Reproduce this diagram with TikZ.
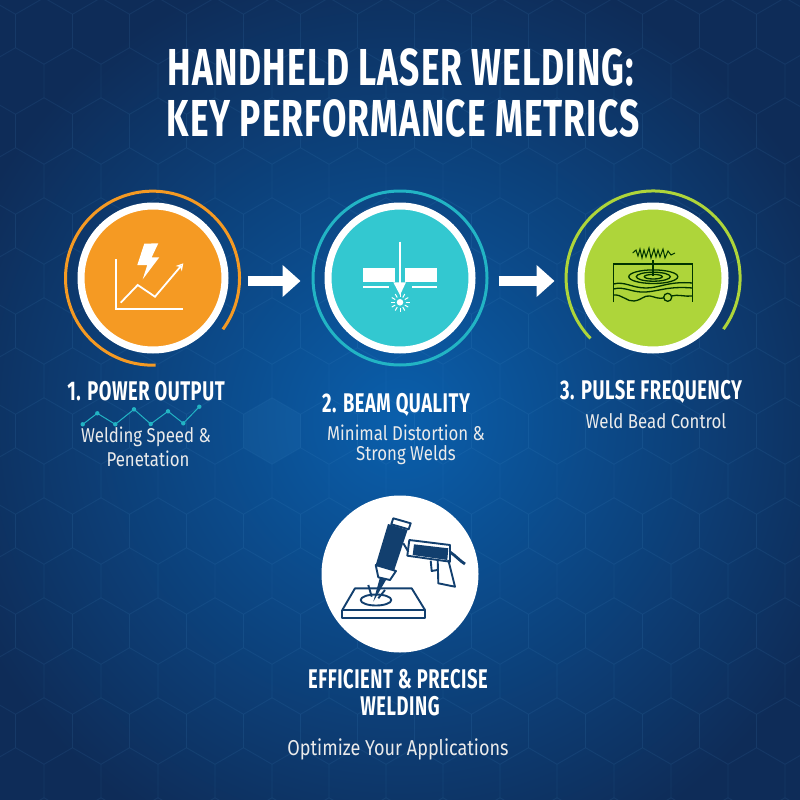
\documentclass[tikz,border=0pt]{standalone}
\usepackage{fontspec}
\usetikzlibrary{arrows.meta,positioning}
\newfontfamily\headfont[FakeStretch=0.68,LetterSpace=2]{Fira Sans}
\newfontfamily\bodyfont[FakeStretch=0.84]{Fira Sans}
\definecolor{bgmid}{HTML}{0A5FAC}
\definecolor{bgedge}{HTML}{0E2C58}
\definecolor{hexline}{HTML}{5FA8E0}
\definecolor{powerfill}{HTML}{F59A23}
\definecolor{beamfill}{HTML}{33C8D0}
\definecolor{beamring}{HTML}{22B4C4}
\definecolor{freqfill}{HTML}{AED53A}
\definecolor{toolnavy}{HTML}{123F6E}
\tikzset{
  disc/.style={circle,draw=white,line width=7pt,minimum size=144pt,inner sep=0pt},
  flowarrow/.style={white,line width=10pt,-{Triangle[length=18pt,width=31pt]}},
  titletext/.style={white,font=\headfont\bfseries\fontsize{52}{56}\selectfont,align=center},
  headtext/.style={white,font=\headfont\bfseries\fontsize{27}{30}\selectfont,align=center},
  subtext/.style={white!92!black,font=\bodyfont\fontsize{20}{24}\selectfont,align=center},
  foottext/.style={white!92!black,font=\bodyfont\fontsize{21.5}{25}\selectfont,align=center},
  iconline/.style={white,line width=1.8pt,line join=miter},
  beadline/.style={black!80!green,line width=1.3pt},
  toolline/.style={toolnavy,line width=1.9pt,line join=round}
}
\begin{document}
\begin{tikzpicture}[x=1pt,y=-1pt]
\useasboundingbox (0,0) rectangle (800,800);
\shade[inner color=bgmid,outer color=bgedge] (-70,-50) rectangle (870,890);

% hex background
\foreach \row in {-1,...,16}
  \foreach \col in {-1,...,14}
    \draw [hexline, opacity=0.06, line width=0.8pt, shift={({\col*57+mod(\row,2)*28.5+44},{\row*50+31})}]
      (0,-33) -- (28.5,-16.5) -- (28.5,16.5) -- (0,33) -- (-28.5,16.5) -- (-28.5,-16.5) -- cycle;
\fill [hexline, opacity=0.07] (272,398) -- (300.5,414.5) -- (300.5,447.5) -- (272,464) -- (243.5,447.5) -- (243.5,414.5) -- cycle;

% title
\node [titletext] (title1) at (401,67) {HANDHELD LASER WELDING:};
\node [titletext] (title2) at (403,118) {KEY PERFORMANCE METRICS};

% circles
\node [disc,fill=powerfill] (power) at (153,278) {};
\node [disc,fill=beamfill] (beam) at (400,278) {};
\node [disc,fill=freqfill] (freq) at (653,278) {};
\node [circle,fill=white,minimum size=157pt,inner sep=0pt] (tool) at (400,574) {};

\draw [powerfill, line width=3pt] (222.9,329.3) arc (36:-272:87);
\draw [beamring, line width=3pt] (400,278) circle (87);
\draw [freqfill, line width=3pt] (590.5,338.4) arc (136:396:87);

% arrows
\draw [flowarrow, shorten <=19pt, shorten >=24pt] ([yshift=-3pt]power.east) -- ([yshift=-3pt]beam.west);
\draw [flowarrow, shorten <=23pt, shorten >=23pt] ([yshift=-3pt]beam.east) -- ([yshift=-3pt]freq.west);

% power icon
\draw [iconline] (116,259.3) -- (116,309.3) -- (183.3,309.3);
\draw [iconline, -{Stealth[open,length=7pt,width=8pt]}] (120.7,302.7) -- (137.7,285) -- (155,296.7) -- (183.3,263.3);
\fill [white] (144.3,243.7) -- (158.3,243.3) -- (151.7,257.3) -- (159.3,257.3) -- (142.7,279.3) -- (147.3,265) -- (137.3,265) -- cycle;

% beam icon
\fill [white] (363.3,268.3) rectangle (395,281.7);
\fill [white] (405,268.3) rectangle (437.3,281.7);
\draw [iconline] (400,241.7) -- (400,284);
\draw [iconline] (363.3,286.7) -- (389,286.7);
\draw [iconline] (412.3,286.7) -- (436.7,286.7);
\fill [white] (393.3,282.3) -- (406,282.3) -- (400,295) -- cycle;
\fill [white] (400,302.3) circle (3.3);
\foreach \a in {0,30,...,330}
  \draw [white, line width=1pt] (400,302.3) ++(\a:5.5) -- ++(\a:4);

% bead icon
\draw [beadline] (613.3,302.3) -- (613.3,264) -- (692.7,264) -- (692.7,302.3);
\draw [beadline, line width=1pt] (632.7,253) -- (636,250) -- (638,256) -- (640,249) -- (642,258) -- (644,250) -- (646,257) -- (649,248) -- (651,258) -- (654,249) -- (656,257) -- (658,250) -- (660,257) -- (663,249) -- (665,258) -- (668,251) -- (671,255) -- (675,253);
\draw [beadline] (653,260) -- (653,276);
\draw [beadline] (653.3,276.7) ellipse (24.5 and 6.8);
\draw [beadline] (653.3,276.7) ellipse (17 and 4.5);
\draw [beadline] (653.3,276.7) ellipse (9 and 2.3);
\draw [beadline] (613.3,284) .. controls (625,281) and (632,288) .. (646,288) .. controls (660,288) and (668,281) .. (692.7,283);
\draw [beadline] (613.3,289) .. controls (625,286) and (632,293) .. (646,292) .. controls (660,291) and (668,286) .. (692.7,288);
\draw [beadline] (613.3,295) .. controls (622,294) and (627,302) .. (634,301) .. controls (642,300) and (644,295) .. (650,296) .. controls (655,297) and (658,299) .. (664,298);
\draw [beadline] (671.5,296) .. controls (678,294) and (685,297) .. (692.7,296);
\draw [beadline] (667.7,297.3) circle (4);

% torch icon
\draw [toolline] (355,588.3) -- (411.7,588.3) -- (425,610) -- (342.3,610) -- cycle;
\draw [toolline] (342.3,610) -- (342.3,617.7) -- (425,617.7) -- (425,610);
\draw [toolline] (376,600) ellipse (15.3 and 5.5);
\fill [toolnavy] (388,524) -- (407.5,530) -- (394,571) -- (375.7,565) -- cycle;
\draw [toolline, fill=white] (393.3,518.3) -- (410.7,523.3) -- (408.7,529.3) -- (391.3,524.3) -- cycle;
\draw [toolline, fill=white] (375.7,565) -- (396,571) -- (390,580) -- (378.3,577.3) -- cycle;
\fill [toolnavy] (380,577.3) -- (386,580) -- (373.3,601.7) -- cycle;
\draw [toolline] (368.3,585) -- (371.7,596.7);
\draw [toolline] (385,590) -- (378.3,598.3);
\draw [toolline, fill=white] (409.3,540) -- (450,545) -- (450,561.7) -- (407.3,555.7) -- cycle;
\fill [toolnavy] (414,544.3) -- (448.3,548.3) -- (447.3,560) -- (412.7,555) -- cycle;
\draw [toolline] (403.3,543.3) -- (408.3,551.7);
\draw [toolline] (437.7,560) -- (438.3,583.3) -- (455,586.7) -- (448.3,560);
\draw [toolline] (430.7,560.7) -- (431.7,571) -- (437.3,570);
\draw [toolnavy, line width=2.8pt] (450,552) .. controls (456,556) and (460,561) .. (465,564);

% zigzag
\draw [beamring, line width=1pt] (82.7,424.3) -- (97.3,413.3) -- (115.3,424.3) -- (134,409.3) -- (150.7,424) -- (168,411.3) -- (183.3,423.3) -- (199.3,406.7);
\foreach \p in {(82.7,424.3),(97.3,413.3),(115.3,424.3),(134,409.3),(150.7,424),(168,411.3),(183.3,423.3),(199.3,406.7)}
  \fill [beamring] \p circle (2.2);

% labels
\node [headtext] (head1) at (146,391) {1. POWER OUTPUT};
\node [subtext] (sub1a) at (146,437) {Welding Speed \&};
\node [subtext] (sub1b) at (148,459) {Penetation};
\node [headtext] (head2) at (396,405) {2. BEAM QUALITY};
\node [subtext] (sub2) at (406,445) {Minimal Distortion \&\\[-4pt]Strong Welds};
\node [headtext] (head3) at (651,392) {3. PULSE FREQUENCY};
\node [subtext] (sub3) at (656,421) {Weld Bead Control};
\node [headtext] (foot1) at (398,679) {EFFICIENT \& PRECISE};
\node [headtext] (foot2) at (400,706) {WELDING};
\node [foottext] (foot3) at (398,749) {Optimize Your Applications};
\end{tikzpicture}
\end{document}
